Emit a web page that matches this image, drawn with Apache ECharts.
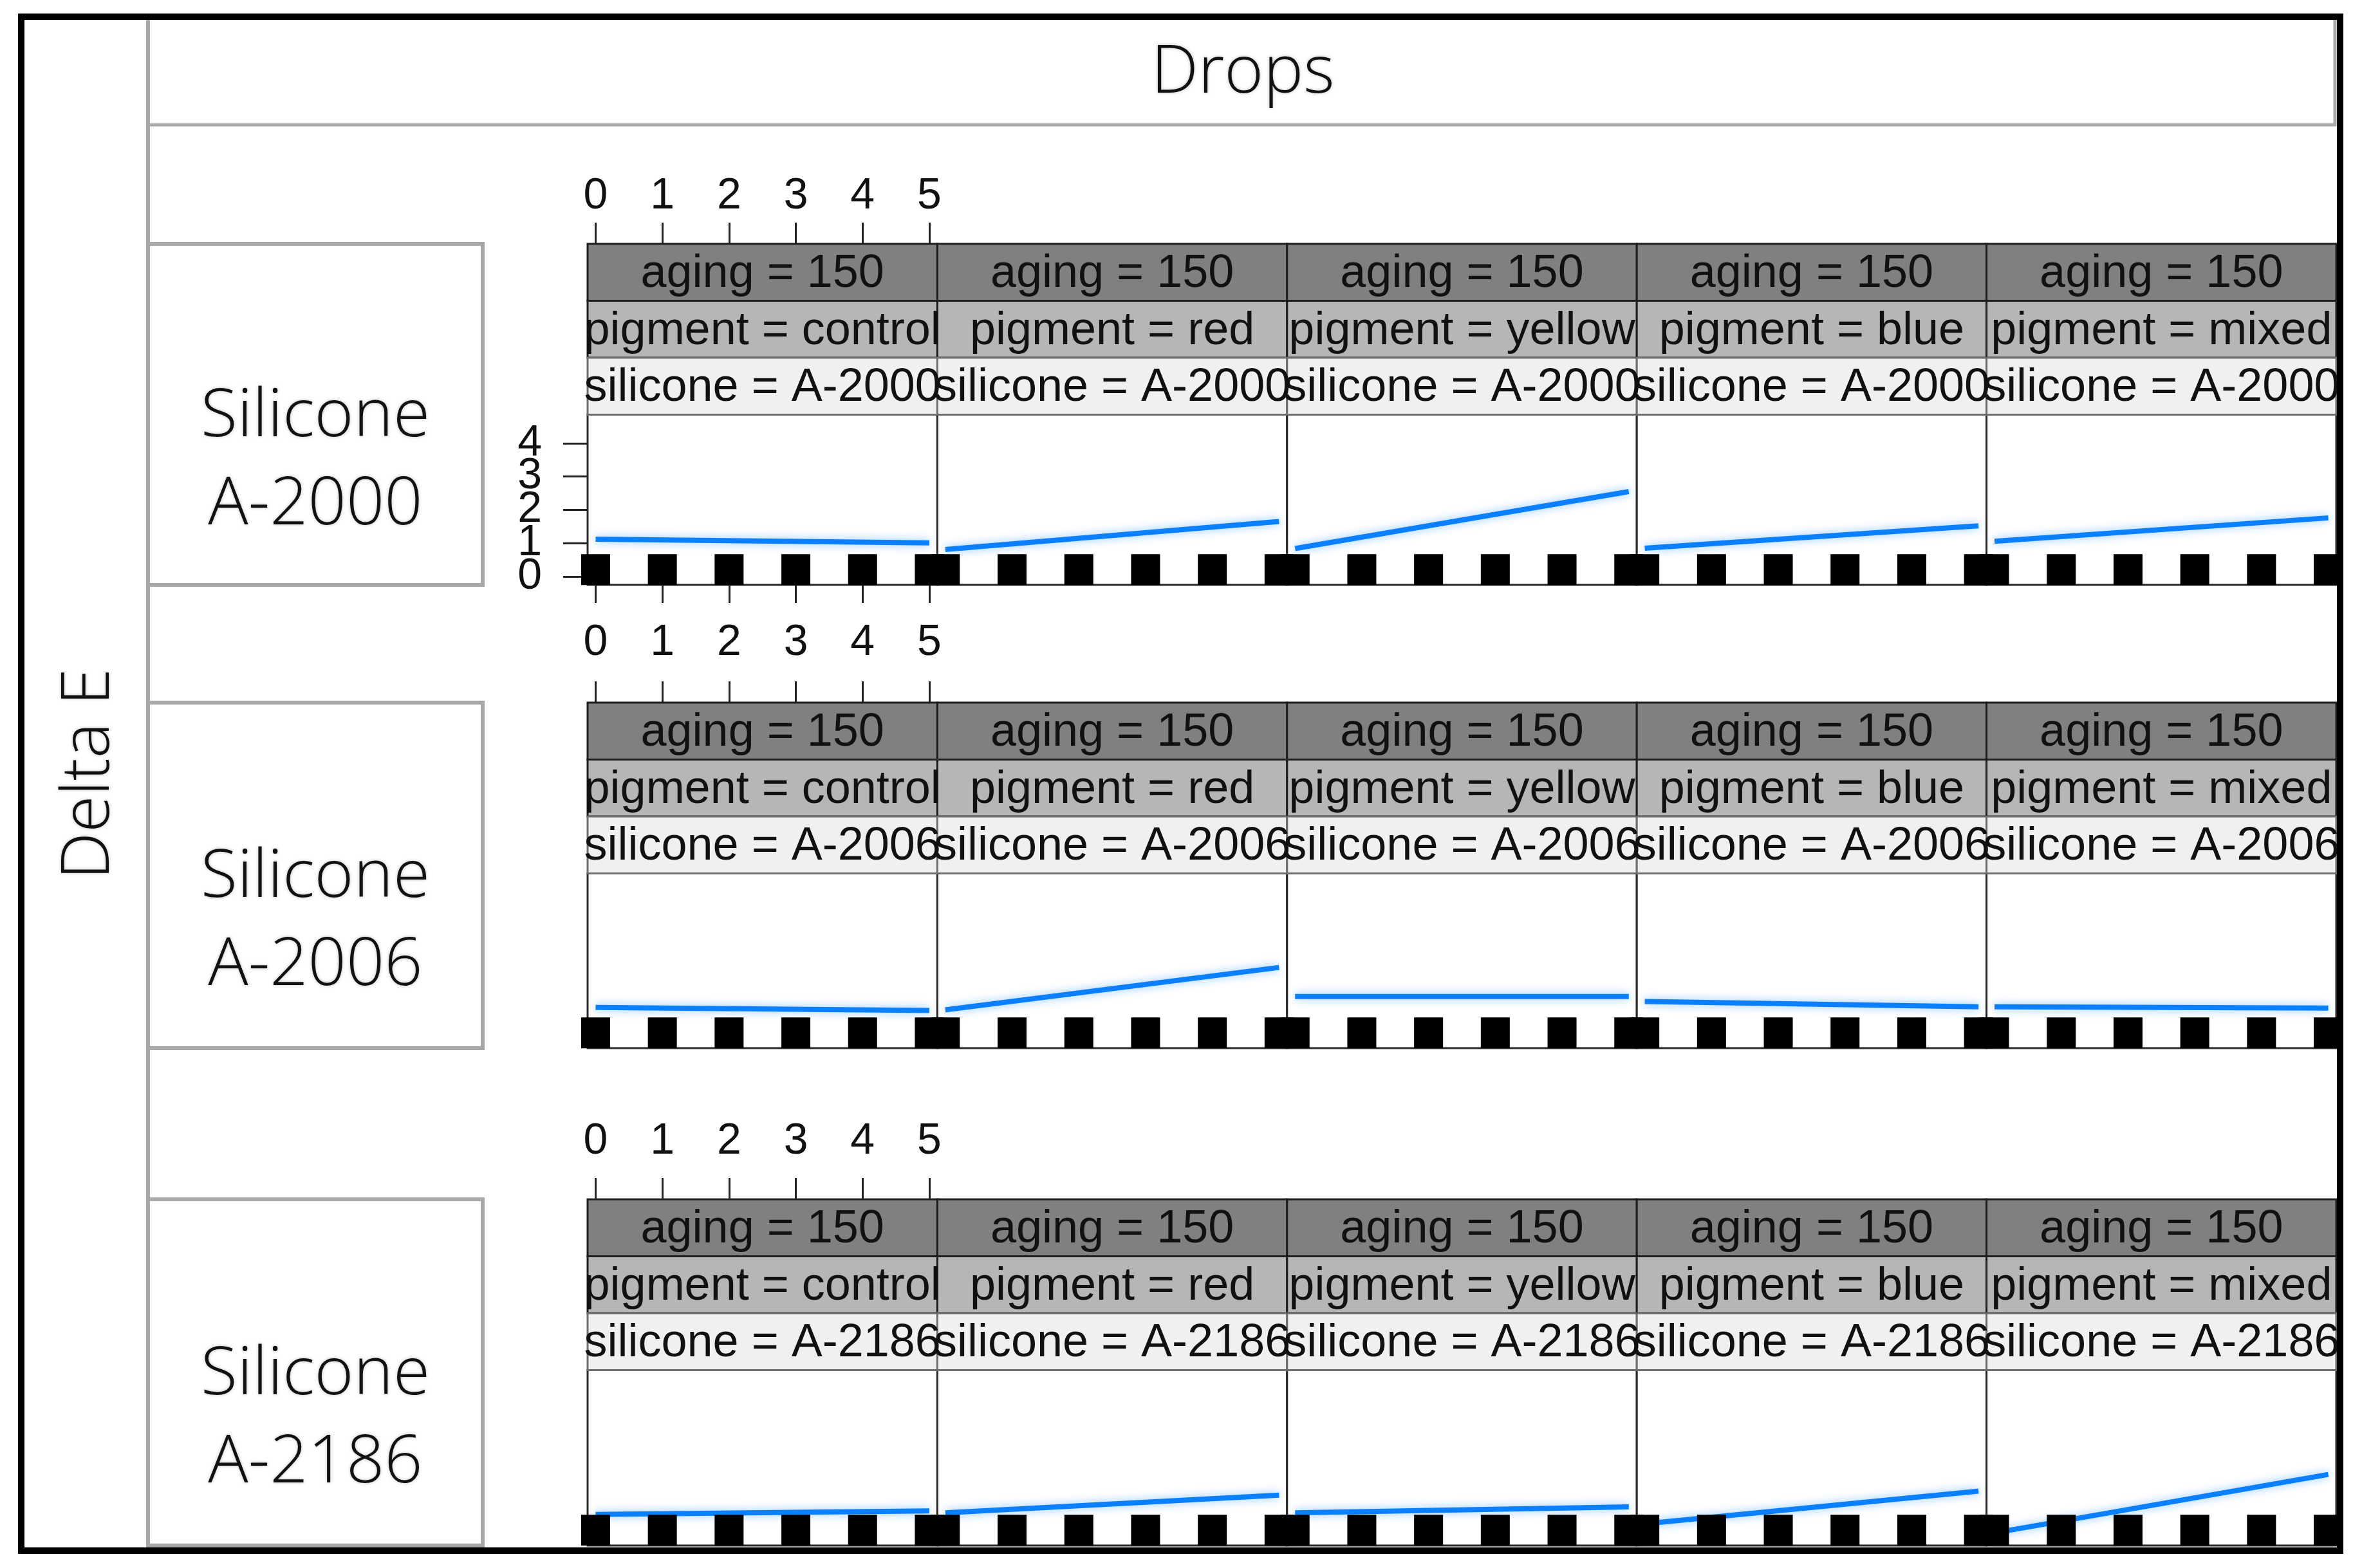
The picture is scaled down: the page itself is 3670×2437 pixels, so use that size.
<!DOCTYPE html>
<html>
<head>
<meta charset="utf-8">
<script src="https://cdn.jsdelivr.net/npm/echarts@6/dist/echarts.min.js"></script>
<style>
  html, body { margin: 0; padding: 0; background: #fff; }
  #main { width: 3670px; height: 2437px; }
</style>
</head>
<body>
<div id="main"></div>
<script>
// data
const pigments = ['control', 'red', 'yellow', 'blue', 'mixed'];
const silicones = ['A-2000', 'A-2006', 'A-2186'];
const agingLabel = 'aging = 150';
const fitDrops = [0, 5];
// fitted Delta E at drops = 0 and drops = 5, one pair per pigment
const fitA2000 = [[1.12, 1.01], [0.81, 1.65], [0.84, 2.55], [0.85, 1.52], [1.06, 1.76]];
const fitA2006 = [[0.97, 0.88], [0.90, 2.17], [1.30, 1.30], [1.15, 0.99], [0.99, 0.95]];
const fitA2186 = [[0.68, 0.79], [0.73, 1.26], [0.73, 0.91], [0.40, 1.38], [0.13, 1.88]];
const rugDrops = [0, 1, 2, 3, 4, 5];
const rugLevel = 0.21;
const xTicks = [0, 1, 2, 3, 4, 5];
const yTicks = [0, 1, 2, 3, 4];

const fits = [fitA2000, fitA2006, fitA2186];

// layout
const PANEL_X0 = 913, PANEL_W = 543.4;
const STRIP_TOP = [379, 1092, 1864];
const STRIP_H = 88.5;
const PLOT_BOTTOM = [909, 1629, 2402];
const PX_PER_UNIT = 51.8;
const Y_MIN = -0.25, X_MIN = -0.12, X_MAX = 5.12;
const LABEL_MARGIN = [40, 59, 56];
const stripFill = ['#808080', '#b6b6b6', '#f0f0f0'];
const ARIAL = "'Liberation Sans', Arial, sans-serif";
const LIGHT = "'Open Sans', 'Noto Sans', sans-serif";

let grids = [], xAxes = [], yAxes = [], series = [], graphics = [];

function yAxisFor(gridIndex, max, show, ticks) {
    return {
        gridIndex: gridIndex, type: 'value', min: Y_MIN, max: max, show: show,
        axisLine: {show: false, onZero: false},
        axisTick: {show: true, length: 38, customValues: ticks, lineStyle: {color: '#222', width: 3}},
        axisLabel: {customValues: ticks, fontSize: 68, color: '#111', fontFamily: ARIAL, margin: 71,
                    showMinLabel: true, showMaxLabel: true},
        splitLine: {show: false}
    };
}

silicones.forEach((sil, r) => {
    const top = STRIP_TOP[r] + 3 * STRIP_H;
    const h = PLOT_BOTTOM[r] - top;
    const yMax = Y_MIN + h / PX_PER_UNIT;
    pigments.forEach((pig, c) => {
        const i = grids.length;
        const left = PANEL_X0 + c * PANEL_W;
        grids.push({
            left: left, top: top, width: PANEL_W, height: h,
            show: true, borderColor: '#2a2a2a', borderWidth: 3, backgroundColor: '#fff'
        });
        xAxes.push({
            gridIndex: i, type: 'value', min: X_MIN, max: X_MAX,
            position: 'top', offset: top - STRIP_TOP[r],
            show: c === 0,
            axisLine: {show: false, onZero: false},
            axisTick: {show: true, length: 33, customValues: xTicks, lineStyle: {color: '#222', width: 3}},
            axisLabel: {customValues: xTicks, fontSize: 68, color: '#111', fontFamily: ARIAL,
                        margin: LABEL_MARGIN[r], showMinLabel: true, showMaxLabel: true},
            splitLine: {show: false}
        });
        // even ticks here, odd ticks on an overlay grid (labels overlap each other)
        yAxes.push(yAxisFor(i, yMax, r === 0 && c === 0, yTicks.filter(t => t % 2 === 0)));
        const v = fits[r][c];
        series.push({
            type: 'line', xAxisIndex: i, yAxisIndex: i,
            data: fitDrops.map((d, k) => [d, v[k]]),
            symbol: 'none', z: 3,
            lineStyle: {color: '#0a80ff', width: 8, shadowColor: 'rgba(0,128,255,0.45)', shadowBlur: 14}
        });
        series.push({
            type: 'scatter', xAxisIndex: i, yAxisIndex: i,
            data: rugDrops.map(d => [d, rugLevel]),
            symbol: 'rect', symbolSize: [45, 48], clip: true, z: 4,
            itemStyle: {color: '#000', opacity: 1}
        });

        // strips
        const labels = [agingLabel, 'pigment = ' + pig, 'silicone = ' + sil];
        labels.forEach((txt, k) => {
            const y = STRIP_TOP[r] + k * STRIP_H;
            graphics.push({
                type: 'rect', z: 10,
                shape: {x: left, y: y, width: PANEL_W, height: STRIP_H},
                style: {fill: stripFill[k], stroke: k === 2 ? '#6e6e6e' : '#1e1e1e', lineWidth: 3}
            });
            graphics.push({
                type: 'text', z: 11, x: left + PANEL_W / 2, y: y + STRIP_H / 2 + 3,
                style: {text: txt, fontSize: 72, fontFamily: ARIAL, fill: '#111',
                        textAlign: 'center', textVerticalAlign: 'middle'}
            });
        });
    });

    // silicone row box
    graphics.push({
        type: 'rect', z: 5,
        shape: {x: 230, y: STRIP_TOP[r], width: 520, height: PLOT_BOTTOM[r] - STRIP_TOP[r]},
        style: {fill: '#fff', stroke: '#a8a8a8', lineWidth: 6}
    });
    const mid = (STRIP_TOP[r] + PLOT_BOTTOM[r]) / 2;
    ['Silicone', sil].forEach((t, k) => {
        graphics.push({
            type: 'text', z: 6, x: 490, y: mid + 4 + k * 137,
            style: {text: t, fontSize: 104, fontFamily: LIGHT, fontWeight: 300, fill: '#111',
                    textAlign: 'center', textVerticalAlign: 'middle',
                    textShadowColor: 'rgba(0,0,0,0.25)', textShadowBlur: 5}
        });
    });
});

// extra bottom ticks under the first panel of the first row
xAxes.push({
    gridIndex: 0, type: 'value', min: X_MIN, max: X_MAX, position: 'bottom',
    axisLine: {show: false, onZero: false},
    axisTick: {show: true, length: 28, customValues: xTicks, lineStyle: {color: '#222', width: 3}},
    axisLabel: {show: false},
    splitLine: {show: false}
});

// overlay grid on the first panel carrying the odd y ticks
const g0 = grids[0];
const overlay = grids.length;
grids.push({left: g0.left, top: g0.top, width: g0.width, height: g0.height, show: false});
xAxes.push({gridIndex: overlay, type: 'value', min: X_MIN, max: X_MAX, show: false});
yAxes.push(yAxisFor(overlay, yAxes[0].max, true, yTicks.filter(t => t % 2 === 1)));

// frame
graphics.push(
    {type: 'line', z: 5, shape: {x1: 230, y1: 30, x2: 230, y2: 2406}, style: {stroke: '#a8a8a8', lineWidth: 6}},
    {type: 'rect', z: 5, shape: {x: 230, y: 28, width: 3398, height: 166}, style: {fill: 'none', stroke: '#a8a8a8', lineWidth: 5}},
    {type: 'rect', z: 20, shape: {x: 33, y: 26, width: 3603, height: 2384}, style: {fill: 'none', stroke: '#000', lineWidth: 10}},
    {type: 'text', z: 6, x: 1931, y: 114,
     style: {text: 'Drops', fontSize: 104, fontFamily: LIGHT, fontWeight: 300, fill: '#111',
             textAlign: 'center', textVerticalAlign: 'middle',
             textShadowColor: 'rgba(0,0,0,0.25)', textShadowBlur: 5}},
    {type: 'text', z: 6, x: 139, y: 1203, rotation: Math.PI / 2,
     style: {text: 'Delta E', fontSize: 104, fontFamily: LIGHT, fontWeight: 300, fill: '#111',
             textAlign: 'center', textVerticalAlign: 'middle',
             textShadowColor: 'rgba(0,0,0,0.25)', textShadowBlur: 5}}
);

let myChart = echarts.init(document.getElementById('main'));
myChart.setOption({
    animation: false,
    backgroundColor: '#fff',
    grid: grids,
    xAxis: xAxes,
    yAxis: yAxes,
    series: series,
    graphic: graphics
});
</script>
</body>
</html>
